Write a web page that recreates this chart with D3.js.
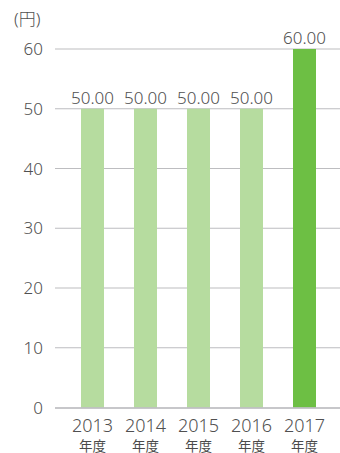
<!DOCTYPE html>
<html>
<head>
<meta charset="utf-8">
<script src="https://cdn.jsdelivr.net/npm/d3@7"></script>
<style>
  body { margin: 0; background: #fff; }
  text { font-family: "Noto Sans", "Noto Sans CJK JP", sans-serif; fill: #505050; font-weight: 300; }
  text.cjk { font-weight: 400; fill: #4a4a4a; }
</style>
</head>
<body>
<div id="vis1"></div>
<script>
// data
const years = ["2013", "2014", "2015", "2016", "2017"];
const dividends = [50, 50, 50, 50, 60];
const yTicks = [0, 10, 20, 30, 40, 50, 60];
const unitLabel = "(円)";
const yearSuffix = "年度";

const FRAME_WIDTH = 340;
const FRAME_HEIGHT = 453;

const svg = d3.select("#vis1")
  .append("svg")
    .attr("width", FRAME_WIDTH)
    .attr("height", FRAME_HEIGHT);

const x = d3.scaleBand()
  .domain(years)
  .range([66, 331])
  .paddingInner(0.566)
  .paddingOuter(0.283);

const y = d3.scaleLinear()
  .domain([0, 60])
  .range([407.5, 49]);

// gridlines
svg.selectAll(".grid")
  .data(yTicks.filter(d => d > 0))
  .enter()
  .append("line")
    .attr("x1", 55)
    .attr("x2", 340)
    .attr("y1", d => y(d))
    .attr("y2", d => y(d))
    .attr("stroke", "#bdbdc0")
    .attr("stroke-width", 1.2);

// y tick labels
svg.selectAll(".ytick")
  .data(yTicks)
  .enter()
  .append("text")
    .attr("x", 43)
    .attr("y", d => y(d))
    .attr("dy", "0.36em")
    .attr("text-anchor", "end")
    .style("font-size", "17px")
    .text(d => d);

svg.append("text")
  .attr("x", 14)
  .attr("y", 25)
  .style("font-size", "17px")
  .text(unitLabel);

// bars
svg.selectAll(".bar")
  .data(dividends)
  .enter()
  .append("rect")
    .attr("x", (d, i) => x(years[i]))
    .attr("y", d => y(d))
    .attr("width", x.bandwidth())
    .attr("height", d => y(0) - y(d))
    .attr("fill", (d, i) => i === years.length - 1 ? "#6dbf44" : "#b6dc9f");

// value labels
svg.selectAll(".val")
  .data(dividends)
  .enter()
  .append("text")
    .attr("x", (d, i) => x(years[i]) + x.bandwidth() / 2)
    .attr("y", d => y(d) - 5)
    .attr("text-anchor", "middle")
    .style("font-size", "17px")
    .text(d => d.toFixed(2));

// baseline
svg.append("line")
  .attr("x1", 55)
  .attr("x2", 340)
  .attr("y1", y(0) + 0.5)
  .attr("y2", y(0) + 0.5)
  .attr("stroke", "#b4b4b8")
  .attr("stroke-width", 1.6);

// x labels
const xl = svg.selectAll(".xlab")
  .data(years)
  .enter()
  .append("g")
    .attr("transform", d => "translate(" + (x(d) + x.bandwidth() / 2) + ",0)");
xl.append("text")
  .attr("y", 432)
  .attr("text-anchor", "middle")
  .style("font-size", "18px")
  .text(d => d);
xl.append("text")
  .attr("class", "cjk")
  .attr("y", 450.5)
  .attr("text-anchor", "middle")
  .style("font-size", "13.5px")
  .text(yearSuffix);
</script>
</body>
</html>
